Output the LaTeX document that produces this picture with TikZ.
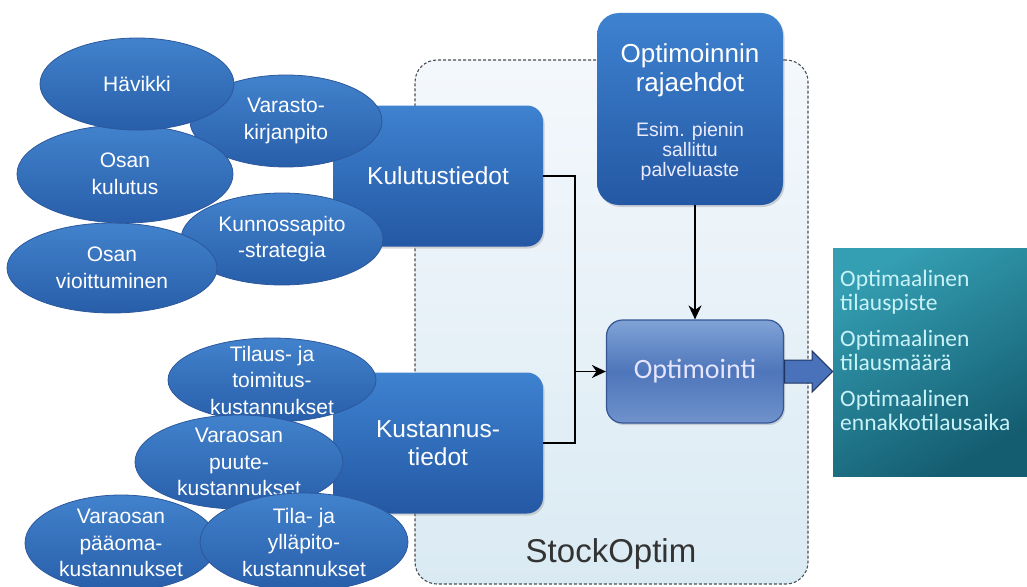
\documentclass[tikz,border=0pt]{standalone}
\usepackage{fontspec}
\setmainfont{Liberation Sans}
\newfontfamily\calibri{Carlito}
\usepackage{xcolor}
\usepackage{tikz}
\usetikzlibrary{arrows.meta}
\usetikzlibrary{calc}
\usetikzlibrary{positioning}
\usetikzlibrary{shapes.geometric}
\usetikzlibrary{shapes.arrows}
\usetikzlibrary{shadows}

\definecolor{ellTop}{RGB}{66,130,204}
\definecolor{ellBot}{RGB}{40,94,170}
\definecolor{ellLine}{RGB}{44,88,156}
\definecolor{boxTop}{RGB}{62,130,208}
\definecolor{boxBot}{RGB}{36,88,164}
\definecolor{optTop}{RGB}{128,162,214}
\definecolor{optMid}{RGB}{78,118,186}
\definecolor{optBot}{RGB}{112,146,204}
\definecolor{optLine}{RGB}{52,86,150}
\definecolor{tealTop}{RGB}{52,158,178}
\definecolor{tealBot}{RGB}{20,92,112}
\definecolor{tealText}{RGB}{200,242,248}
\definecolor{frameTop}{RGB}{244,248,252}
\definecolor{frameBot}{RGB}{218,234,243}
\definecolor{frameLine}{RGB}{70,80,85}
\definecolor{arrowFill}{RGB}{74,114,186}
\definecolor{arrowLine}{RGB}{31,53,96}

\tikzset{
    kehys/.style = {rectangle, rounded corners=22pt, draw=frameLine, line width=1.1pt,
        dash pattern=on 3pt off 2pt, top color=frameTop, bottom color=frameBot,
        minimum width=393pt, minimum height=524pt, inner sep=0pt},
    nimi/.style = {text=black!80, font=\fontsize{33}{38}\selectfont},
    osa/.style = {ellipse, top color=ellTop, bottom color=ellBot, draw=ellLine,
        line width=.8pt, text=white, align=center, inner sep=-12pt,
        font=\fontsize{21}{26.5}\selectfont},
    tieto/.style = {rectangle, rounded corners=16pt, top color=boxTop, bottom color=boxBot,
        drop shadow={opacity=.3, shadow xshift=1.5pt, shadow yshift=-2pt},
        minimum width=210pt, minimum height=141pt, text=white, align=center,
        font=\fontsize{24.5}{28}\selectfont},
    rajat/.style = {rectangle, rounded corners=22pt, top color=boxTop, bottom color=boxBot,
        drop shadow={opacity=.3, shadow xshift=1.5pt, shadow yshift=-2pt},
        minimum width=186pt, minimum height=192pt},
    rajat otsikko/.style = {text=white, align=center, inner sep=0pt,
        font=\fontsize{26}{29}\selectfont},
    rajat teksti/.style = {text=white!92!blue, align=center, inner sep=0pt,
        font=\fontsize{19.5}{20}\selectfont},
    optimointi/.style = {rectangle, rounded corners=16pt, draw=optLine, line width=1.2pt,
        top color=optTop, bottom color=optBot, middle color=optMid,
        drop shadow={opacity=.3, shadow xshift=1.5pt, shadow yshift=-2pt},
        minimum width=177pt, minimum height=103pt, text=white!90!blue,
        font=\calibri\fontsize{28}{32}\selectfont},
    tulos/.style = {rectangle, top color=tealTop, bottom color=tealBot, shading angle=30,
        minimum width=194pt, minimum height=228pt, inner sep=0pt},
    tulos teksti/.style = {text=tealText, align=left, inner sep=0pt,
        font=\calibri\fontsize{23.5}{24}\selectfont},
    iso nuoli/.style = {single arrow, fill=arrowFill, draw=arrowLine, line width=1pt,
        minimum height=48pt, single arrow head extend=9pt, inner sep=11pt},
    yhteys/.style = {color=black, line width=1.6pt},
    nuoli/.style = {yhteys, -{Stealth[length=14pt,width=13pt]}},
}

\begin{document}
\begin{tikzpicture}[x=1pt, y=-1pt]
    \useasboundingbox (0,0) rectangle (1027,586);
    \node[kehys] (SO) at (611.5,322) {};
    \node[nimi] (SOT) at (611,554) {StockOptim};

    \node[tieto] (Ku) at (438,176) {Kulutustiedot};
    \node[tieto] (Ks) at (438,443) {Kustannus-\\tiedot};

    \node[osa, minimum width=192pt, minimum height=92pt] (Var) at (286,121) {Varasto-\\kirjanpito};
    \node[osa, minimum width=202pt, minimum height=92pt] (Kun) at (282,239) {Kunnossapito\\-strategia};
    \node[osa, minimum width=210pt, minimum height=90pt] (Vio) at (112,268) {Osan\\vioittuminen};
    \node[osa, minimum width=216pt, minimum height=98pt] (Kul) at (125,174) {Osan\\kulutus};
    \node[osa, minimum width=194pt, minimum height=92pt] (Hav) at (137,84) {Hävikki};

    \node[osa, minimum width=208pt, minimum height=84pt] (Til) at (272,380) {Tilaus- ja\\toimitus-\\kustannukset};
    \node[osa, minimum width=208pt, minimum height=94pt] (Puu) at (239,462) {Varaosan\\puute-\\kustannukset};
    \node[osa, minimum width=192pt, minimum height=96pt] (Paa) at (121,543) {Varaosan\\pääoma-\\kustannukset};
    \node[osa, minimum width=208pt, minimum height=98pt] (Tyl) at (304,542) {Tila- ja\\ylläpito-\\kustannukset};

    \node[rajat] (Rj) at (690,109) {};
    \node[rajat otsikko, anchor=north] (RjA) at (690,43) {Optimoinnin\\rajaehdot};
    \node[rajat teksti, anchor=north] (RjB) at (690,122) {Esim. pienin\\sallittu\\palveluaste};

    \node[optimointi] (Op) at (695,371.5) {Optimointi};
    \node[tulos] (Out) at (930,362) {};
    \node[tulos teksti, anchor=north west] (OutT) at (840,270)
        {Optimaalinen\\tilauspiste\\[12pt]Optimaalinen\\tilausmäärä\\[12pt]Optimaalinen\\ennakkotilausaika};
    \node[iso nuoli, anchor=tail] (Nu) at (Op.east) {};

    \coordinate (J) at (575,371.5);
    \draw[yhteys] (Ku.east) -| (J) |- (Ks.east);
    \path (J) edge[nuoli] (Op.west);
    \path (Rj.south -| Op.north) edge[nuoli] (Op.north);
\end{tikzpicture}
\end{document}
